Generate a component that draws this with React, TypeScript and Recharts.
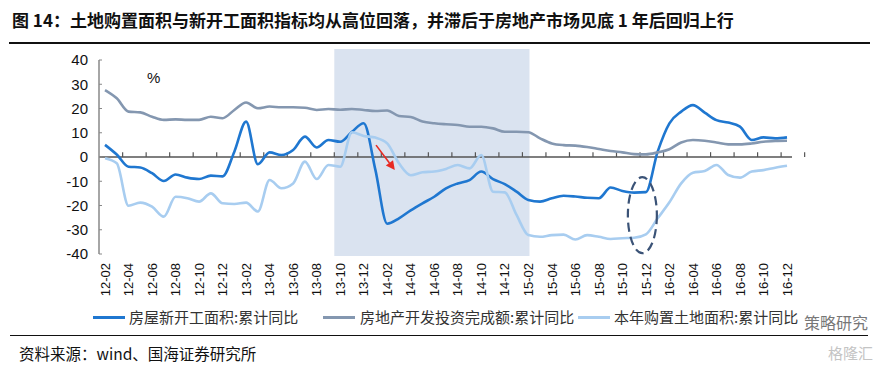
import { LineChart, Line, XAxis, YAxis, ReferenceArea, ReferenceLine, ReferenceDot, Legend } from 'recharts';

const months = [
  '12-02', '12-03', '12-04', '12-05', '12-06', '12-07', '12-08', '12-09', '12-10', '12-11', '12-12',
  '13-01', '13-02', '13-03', '13-04', '13-05', '13-06', '13-07', '13-08', '13-09', '13-10', '13-11', '13-12',
  '14-01', '14-02', '14-03', '14-04', '14-05', '14-06', '14-07', '14-08', '14-09', '14-10', '14-11', '14-12',
  '15-01', '15-02', '15-03', '15-04', '15-05', '15-06', '15-07', '15-08', '15-09', '15-10', '15-11', '15-12',
  '16-01', '16-02', '16-03', '16-04', '16-05', '16-06', '16-07', '16-08', '16-09', '16-10', '16-11', '16-12',
];

// 房屋新开工面积:累计同比
const newStarts = [
  5, 1, -4, -4.3, -6.7, -9.9, -7.2, -8.5, -9.1, -7.7, -8,
  2.2, 14.6, -3, 1.9, 0.8, 2.9, 8.4, 3.9, 7, 6.3, 10.4, 13.9,
  -5.4, -27.5, -25.3, -22, -19.1, -16.4, -12.9, -10.9, -9.5, -6, -9.1, -11.2,
  -14.3, -17.7, -18.4, -17, -16, -16.3, -16.8, -17, -12.6, -14, -14.7, -14.5,
  2.2, 13.9, 18.7, 21.4, 18.3, 15.2, 14.2, 12.5, 7, 8.1, 7.7, 8.1,
];

// 房地产开发投资完成额:累计同比
const investment = [
  27.6, 24.2, 18.7, 18.4, 16.6, 15.3, 15.5, 15.3, 15.3, 16.6, 16,
  19.4, 22.5, 20.1, 20.8, 20.5, 20.5, 20.3, 19.4, 19.8, 19.5, 19.8, 19.4,
  19, 19.2, 16.9, 16.5, 14.6, 13.9, 13.5, 13.2, 12.5, 12.5, 11.8, 10.4,
  10.4, 10.2, 7.7, 5.6, 4.9, 4.7, 4.1, 3.3, 2.5, 1.9, 1.2, 1.1,
  1.9, 3.2, 6, 7, 6.7, 6, 5.2, 5.2, 5.6, 6.3, 6.6, 6.7,
];

// 本年购置土地面积:累计同比
const landPurchase = [
  -0.5, -2.6, -20.1, -18.8, -20.5, -24.6, -16.4, -17, -18.4, -15, -19.1,
  -19.4, -18.8, -22.5, -9.5, -12.9, -10.9, -1.9, -9.1, -3.3, -4, 10.2, 8.7,
  8, 5.6, -2.6, -7.5, -6.3, -6, -4.9, -3.3, -4.7, 0.8, -14.3, -14.6,
  -23.9, -32.2, -32.9, -32.2, -32, -34, -32.2, -32.9, -33.8, -33.5, -33.3, -31.9,
  -25.3, -18.7, -10.9, -6.5, -5.8, -3.3, -7.4, -8.5, -6, -5.4, -4.4, -3.6,
];

const yTicks = [-40, -30, -20, -10, 0, 10, 20, 30, 40];
const xTicks = months.map((_, i) => i).filter((i) => i % 2 === 0);

const series = [
  { key: 'newStarts', name: '房屋新开工面积:累计同比', color: '#1f77d0' },
  { key: 'investment', name: '房地产开发投资完成额:累计同比', color: '#8497b0' },
  { key: 'landPurchase', name: '本年购置土地面积:累计同比', color: '#a8cdf0' },
];

const data = months.map((m, i) => ({
  idx: i,
  month: m,
  newStarts: newStarts[i],
  investment: investment[i],
  landPurchase: landPurchase[i],
}));

const numFont = '"Liberation Sans", Arial, sans-serif';
const cjkFont = '"Noto Sans CJK SC", "Liberation Sans", sans-serif';

function MonthTick({ x, y, payload }: any) {
  return (
    <g transform={`translate(${x},${y + 9})`}>
      <text transform="rotate(-90)" textAnchor="end" dy="0.36em" fontSize={13} fill="#111" fontFamily={numFont}>
        {months[payload.value]}
      </text>
    </g>
  );
}

function ValueTick({ x, y, payload }: any) {
  return (
    <g>
      <line x1={x + 11} y1={y} x2={x + 14} y2={y} stroke="#888" strokeWidth={1} />
      <text x={x} y={y} textAnchor="end" dy="0.36em" fontSize={15} fill="#111" fontFamily={numFont}>
        {payload.value}
      </text>
    </g>
  );
}

function Arrow({ x1, y1, x2, y2 }: any) {
  const ang = Math.atan2(y2 - y1, x2 - x1);
  const len = 9;
  const w = 4.5;
  const bx = x2 - len * Math.cos(ang);
  const by = y2 - len * Math.sin(ang);
  const px = -Math.sin(ang) * w;
  const py = Math.cos(ang) * w;
  return (
    <g>
      <line x1={x1} y1={y1} x2={bx} y2={by} stroke="#e82a22" strokeWidth={1.6} />
      <polygon points={`${x2},${y2} ${bx + px},${by + py} ${bx - px},${by - py}`} fill="#e82a22" />
    </g>
  );
}

function DashedEllipse({ cx, cy }: any) {
  return (
    <ellipse cx={cx} cy={cy} rx={14.5} ry={38} fill="none" stroke="#3b5377" strokeWidth={2.2} strokeDasharray="9 5" />
  );
}

function LegendBox() {
  const items = [
    { lineLeft: 93, textLeft: 129 },
    { lineLeft: 323, textLeft: 360 },
    { lineLeft: 578, textLeft: 614 },
  ];
  return (
    <div style={{ position: 'relative', width: 879, height: 24 }}>
      {series.map((s, i) => (
        <div key={s.key}>
          <div style={{ position: 'absolute', left: items[i].lineLeft, top: 11, width: 32, height: 3, background: s.color }} />
          <span
            style={{
              position: 'absolute',
              left: items[i].textLeft,
              top: 0,
              fontSize: 15,
              lineHeight: '24px',
              color: '#333',
              fontFamily: cjkFont,
              whiteSpace: 'nowrap',
            }}
          >
            {s.name}
          </span>
        </div>
      ))}
    </div>
  );
}

export default function App() {
  return (
    <div style={{ position: 'fixed', left: 0, top: 0, width: 879, height: 366, background: '#fff', overflow: 'hidden' }}>
      <LineChart width={879} height={340} data={data} margin={{ top: 60, right: 87, left: 59, bottom: 40 }}>
        <ReferenceArea x1={19.5} x2={36.1} y1={-40.8} y2={44.5} fill="#dae3f0" fillOpacity={1} stroke="none" ifOverflow="visible" />
        <XAxis
          dataKey="idx"
          type="number"
          domain={[0, 58]}
          ticks={xTicks}
          interval={0}
          padding={{ left: 6, right: 5 }}
          axisLine={false}
          tickLine={false}
          tickSize={0}
          tickMargin={0}
          height={46}
          tick={<MonthTick />}
        />
        <YAxis
          type="number"
          domain={[-40, 40]}
          ticks={yTicks}
          interval={0}
          width={40}
          axisLine={{ stroke: '#888', strokeWidth: 1.5 }}
          tickLine={false}
          tickSize={0}
          tickMargin={11}
          tick={<ValueTick />}
        />
        <ReferenceLine y={0} stroke="#555" strokeWidth={1.5} />
        {xTicks.map((i) => (
          <ReferenceLine
            key={`zt-${i}`}
            segment={[{ x: i + 1.5, y: 0 }, { x: i + 1.5, y: 2 }]}
            stroke="#555"
            strokeWidth={1.2}
            ifOverflow="visible"
          />
        ))}
        {series.map((s) => (
          <Line
            key={s.key}
            type="monotone"
            dataKey={s.key}
            name={s.name}
            stroke={s.color}
            strokeWidth={2.6}
            dot={false}
            activeDot={false}
            isAnimationActive={false}
          />
        ))}
        <ReferenceLine segment={[{ x: 23.05, y: 4.9 }, { x: 24.65, y: -5.4 }]} shape={<Arrow />} ifOverflow="visible" />
        <ReferenceDot x={45.7} y={-24} r={1} shape={<DashedEllipse />} ifOverflow="visible" />
        <Legend
          verticalAlign="middle"
          align="center"
          layout="horizontal"
          wrapperStyle={{ top: 305, left: 0, width: 879, height: 24 }}
          content={() => <LegendBox />}
        />
      </LineChart>

      <div style={{ position: 'absolute', left: 12, top: 9, fontSize: 17, lineHeight: '22px', fontWeight: 700, fontFamily: cjkFont, color: '#111', whiteSpace: 'nowrap' }}>
        图 14：土地购置面积与新开工面积指标均从高位回落，并滞后于房地产市场见底 1 年后回归上行
      </div>
      <div style={{ position: 'absolute', left: 9, top: 42, width: 861, height: 2, background: '#111' }} />
      <div style={{ position: 'absolute', left: 147, top: 69, fontSize: 15, lineHeight: '18px', fontFamily: numFont, color: '#111' }}>%</div>
      <div style={{ position: 'absolute', left: 10, top: 335, width: 858, height: 1, background: '#111' }} />
      <div style={{ position: 'absolute', left: 19, top: 342, fontSize: 15.5, lineHeight: '22px', fontFamily: cjkFont, color: '#111', whiteSpace: 'nowrap' }}>
        资料来源：wind、国海证券研究所
      </div>
      <div style={{ position: 'absolute', left: 804, top: 311, fontSize: 16, lineHeight: '22px', fontFamily: cjkFont, color: '#777', whiteSpace: 'nowrap' }}>
        策略研究
      </div>
      <div style={{ position: 'absolute', left: 828, top: 343, fontSize: 15, lineHeight: '20px', fontFamily: cjkFont, color: '#c4c4c4', whiteSpace: 'nowrap' }}>
        格隆汇
      </div>
    </div>
  );
}
